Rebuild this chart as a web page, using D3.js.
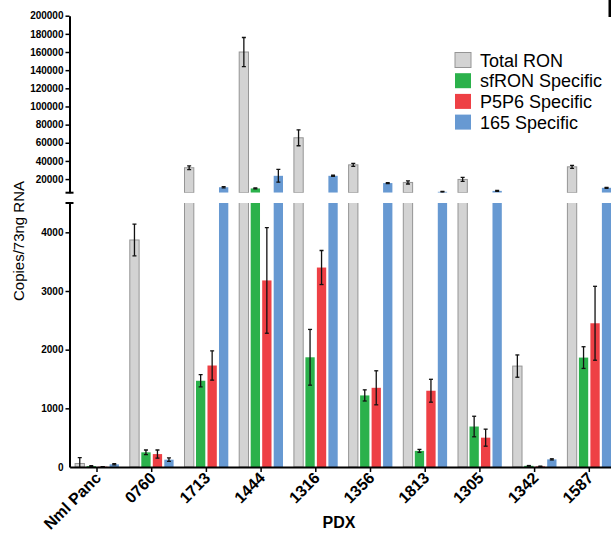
<!DOCTYPE html>
<html>
<head>
<meta charset="utf-8">
<script src="https://cdn.jsdelivr.net/npm/d3@7/dist/d3.min.js"></script>
<style>
  html, body { margin: 0; padding: 0; background: #fff; }
  svg { display: block; font-family: "Liberation Sans", Arial, Helvetica, sans-serif; }
</style>
</head>
<body>
<svg id="chart" width="611" height="533"></svg>
<script>
const categories = ["Nml Panc", "0760", "1713", "1444", "1316", "1356", "1813", "1305", "1342", "1587"];
const seriesNames = ["Total RON", "sfRON Specific", "P5P6 Specific", "165 Specific"];
const totalRON    = [60, 3870, 32500, 160000, 65500, 35700, 16300, 19600, 1720, 33500];
const totalRONErr = [100, 270, 2000, 16000, 8800, 1700, 1700, 2200, 190, 1600];
const sfRON       = [15, 250, 1470, 9700, 1870, 1220, 275, 690, 20, 1865];
const sfRONErr    = [10, 40, 105, 500, 475, 95, 25, 175, 5, 185];
const p5p6        = [5, 220, 1730, 3180, 3400, 1350, 1300, 500, 10, 2450];
const p5p6Err     = [3, 70, 250, 900, 290, 290, 195, 145, 5, 630];
const s165        = [45, 125, 11000, 23600, 23600, 15600, 6000, 7000, 130, 10400];
const s165Err     = [10, 30, 600, 7000, 600, 500, 400, 500, 10, 500];
const topTicks    = [20000, 40000, 60000, 80000, 100000, 120000, 140000, 160000, 180000, 200000];
const bottomTicks = [0, 1000, 2000, 3000, 4000];
const colors      = ["#d3d3d3", "#2bb14b", "#ee4045", "#6799d2"];

const values = [totalRON, sfRON, p5p6, s165];
const errs = [totalRONErr, sfRONErr, p5p6Err, s165Err];

const svg = d3.select("#chart");
const axisX = 69.5;
const topRange = [192.7, 15.7];
const botRange = [467, 203];
const topDomain = [5000, 200000];
const botDomain = [0, 4500];

const yTop = d3.scaleLinear().domain(topDomain).range(topRange);
const yBot = d3.scaleLinear().domain(botDomain).range(botRange);
const x = d3.scaleBand().domain(categories).range([69.65, 69.65 + 54.7 * 10]).padding(0);
const xs = d3.scaleBand().domain(seriesNames).range([-21.9, 21.9]).paddingInner(0.19).paddingOuter(0);

// clip paths
const defs = svg.append("defs");
defs.append("clipPath").attr("id", "clipTop").append("rect")
  .attr("x", axisX).attr("y", 0).attr("width", 611).attr("height", topRange[0]);
defs.append("clipPath").attr("id", "clipBot").append("rect")
  .attr("x", axisX).attr("y", botRange[1]).attr("width", 611).attr("height", botRange[0] - botRange[1]);

const data = [];
categories.forEach((c, i) => {
  seriesNames.forEach((s, j) => {
    data.push({cat: c, ser: s, j: j, v: values[j][i], e: errs[j][i]});
  });
});

function drawPanel(g, y, dom) {
  const lo = dom[0], hi = dom[1];
  const vis = data.filter(d => d.v > lo);
  g.selectAll("rect.bar").data(vis).join("rect")
    .attr("class", "bar")
    .attr("x", d => x(d.cat) + x.bandwidth() / 2 + xs(d.ser))
    .attr("width", xs.bandwidth())
    .attr("y", d => y(Math.min(d.v, hi * 1.05)))
    .attr("height", d => y(Math.max(lo - (hi - lo) * 0.05, lo === 0 ? 0 : lo - 1)) - y(Math.min(d.v, hi * 1.05)))
    .attr("fill", d => colors[d.j])
    .attr("stroke", d => d.j === 0 ? "#959595" : "none")
    .attr("stroke-width", 1);
  const ev = data.filter(d => d.v > lo && d.v < hi);
  const eg = g.selectAll("g.err").data(ev).join("g").attr("class", "err")
    .attr("transform", d => `translate(${x(d.cat) + x.bandwidth() / 2 + xs(d.ser) + xs.bandwidth() / 2},0)`);
  eg.append("line").attr("x1", 0).attr("x2", 0)
    .attr("y1", d => y(Math.min(d.v + d.e, hi))).attr("y2", d => y(Math.max(d.v - d.e, lo)))
    .attr("stroke", "#111").attr("stroke-width", 1.3);
  eg.append("line").attr("x1", -2).attr("x2", 2)
    .attr("y1", d => y(Math.min(d.v + d.e, hi))).attr("y2", d => y(Math.min(d.v + d.e, hi)))
    .attr("stroke", "#111").attr("stroke-width", 1.3);
  eg.filter(d => d.v - d.e > lo).append("line").attr("x1", -2).attr("x2", 2)
    .attr("y1", d => y(d.v - d.e)).attr("y2", d => y(d.v - d.e))
    .attr("stroke", "#111").attr("stroke-width", 1.3);
}

drawPanel(svg.append("g").attr("clip-path", "url(#clipTop)"), yTop, topDomain);
drawPanel(svg.append("g").attr("clip-path", "url(#clipBot)"), yBot, botDomain);

// y axes
function styleAxis(g) {
  g.select(".domain").attr("stroke", "#000").attr("stroke-width", 2);
  g.selectAll(".tick line").attr("stroke", "#000").attr("stroke-width", 1.5);
  g.selectAll(".tick text").attr("font-size", "10px").attr("font-weight", "bold").attr("fill", "#000")
    .attr("font-family", "'Liberation Sans', Arial, sans-serif");
}
const gTop = svg.append("g").attr("transform", `translate(${axisX},0)`)
  .call(d3.axisLeft(yTop).tickValues(topTicks).tickFormat(d3.format("d")).tickSize(4).tickSizeOuter(0).tickPadding(2));
styleAxis(gTop);
const gBot = svg.append("g").attr("transform", `translate(${axisX},0)`)
  .call(d3.axisLeft(yBot).tickValues(bottomTicks).tickFormat(d3.format("d")).tickSize(4).tickSizeOuter(0).tickPadding(2));
styleAxis(gBot);
gBot.selectAll(".tick").filter(d => d === 0).select("line").remove();

// break caps
[topRange[0], botRange[1]].forEach(yy => {
  svg.append("line").attr("x1", axisX - 4).attr("x2", axisX + 4).attr("y1", yy).attr("y2", yy)
    .attr("stroke", "#000").attr("stroke-width", 2);
});

// x axis
const gx = svg.append("g").attr("transform", `translate(0,${botRange[0]})`)
  .call(d3.axisBottom(x).tickSize(5).tickSizeOuter(0).tickPadding(0));
gx.select(".domain").attr("stroke", "#000").attr("stroke-width", 2.2);
gx.selectAll(".tick line").attr("stroke", "#000").attr("stroke-width", 1.5);
gx.selectAll(".tick text")
  .attr("font-size", "16px").attr("font-weight", "bold").attr("fill", "#000")
  .attr("font-family", "'Liberation Sans', Arial, sans-serif")
  .attr("text-anchor", "end")
  .attr("dy", null).attr("y", 0)
  .attr("transform", "translate(5,12) rotate(-45)");

// axis titles
svg.append("text").attr("transform", "translate(24,241) rotate(-90)")
  .attr("text-anchor", "middle").attr("font-size", "15px").attr("fill", "#000")
  .text("Copies/73ng RNA");
svg.append("text").attr("x", 339).attr("y", 528)
  .attr("text-anchor", "middle").attr("font-size", "16px").attr("font-weight", "bold").attr("fill", "#000")
  .text("PDX");

// legend
const lg = svg.append("g").attr("transform", "translate(455,52.5)");
seriesNames.forEach((s, j) => {
  const row = lg.append("g").attr("transform", `translate(0,${j * 20.7})`);
  row.append("rect").attr("width", 16).attr("height", 15)
    .attr("fill", colors[j]).attr("stroke", j === 0 ? "#959595" : "none");
  row.append("text").attr("x", 25).attr("y", 14).attr("font-size", "18px").attr("fill", "#000").text(s);
});

// partial frame at top right edge
svg.append("rect").attr("x", 608.5).attr("y", 0).attr("width", 2.5).attr("height", 17).attr("fill", "#000");
</script>
</body>
</html>
